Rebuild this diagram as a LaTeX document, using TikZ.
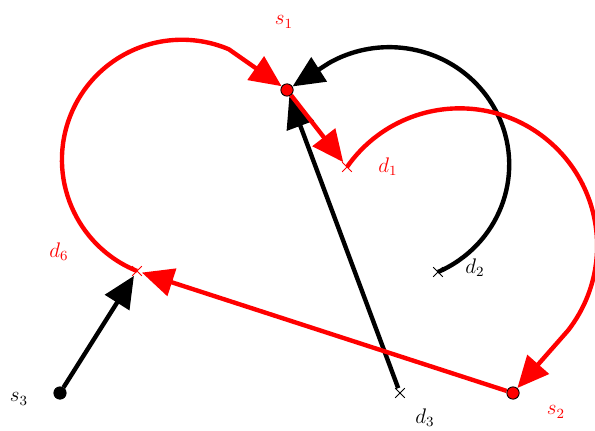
\documentclass[tikz,border=0pt]{standalone}
\usepackage{amsmath, amssymb}
\usepackage{tikz}
\usetikzlibrary{shapes,arrows.meta,positioning,backgrounds}

\begin{document}
\begin{tikzpicture}[
    source/.style={circle, draw=black, fill=red, minimum size=7pt, inner sep=0pt, line width=0.5pt},
    target/.style={cross out, draw, minimum size=5pt, inner sep=0pt, line width=0.5pt},
    link/.style={-{Triangle[length=18pt, width=16pt]}, line width=2.5pt},
    lab/.style={font=\large}
]

\useasboundingbox (0,0) rectangle (11.9,8.6);

% Sources
\node[source] (s1) at (5.74, 6.80) {};
\node[source] (s2) at (10.26, 0.74) {};
\node[source, fill=black] (s3) at (1.20, 0.74) {};

% Targets
\node[target, red] (d1) at (6.94, 5.26) {};
\node[target] (d2) at (8.76, 3.16) {};
\node[target] (d3) at (8.00, 0.74) {};
\node[target, red] (d6) at (2.74, 3.18) {};

% Labels
\node[lab, red] (s1l) at (5.68, 8.16) {$s_1$};
\node[lab, red] (s2l) at (11.12, 0.36) {$s_2$};
\node[lab] (s3l) at (0.38, 0.62) {$s_3$};
\node[lab, red] (d1l) at (7.76, 5.26) {$d_1$};
\node[lab] (d2l) at (9.50, 3.24) {$d_2$};
\node[lab] (d3l) at (8.50, 0.25) {$d_3$};
\node[lab, red] (d6l) at (1.18, 3.56) {$d_6$};

\begin{scope}[on background layer]
% Black moves
\draw[link] (d3) -- (s1);
\draw[link] (s3) -- (d6);
\draw[link] (d2) arc[start angle=-66, end angle=120, x radius=2.4cm, y radius=2.35cm] -- (s1);

% Red moves
\draw[link, red] (s1) -- (d1);
\draw[link, red] (s2) -- (d6);
\draw[link, red] (d1) arc[start angle=145, end angle=-38, radius=2.75cm] -- (s2);
\draw[link, red] (d6) arc[start angle=248, end angle=67, radius=2.4cm] -- (s1);
\end{scope}

\end{tikzpicture}
\end{document}
